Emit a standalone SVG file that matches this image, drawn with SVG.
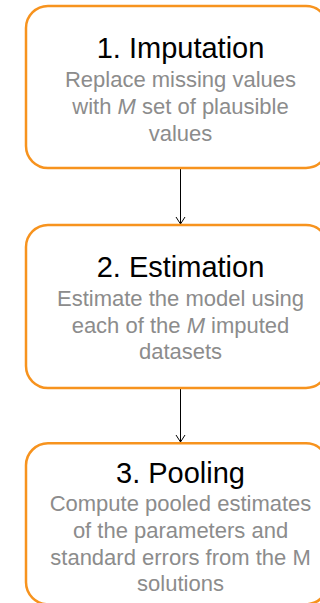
<svg xmlns="http://www.w3.org/2000/svg" width="320" height="603" viewBox="0 0 320 603">
<defs>
<style>
.box{fill:#fff;stroke:#F7931E;stroke-width:2.5}
.title{font-family:"Liberation Sans",Arial,Helvetica,sans-serif;font-size:29px;fill:#000;text-anchor:middle}
.sub{font-family:"Liberation Sans",Arial,Helvetica,sans-serif;font-size:22px;fill:#8c8c8c;text-anchor:middle}
.it{font-style:italic}
.conn{stroke:#000;stroke-width:1;fill:none}
</style>
<marker id="arr" markerWidth="12" markerHeight="12" refX="9" refY="5" orient="auto" markerUnits="userSpaceOnUse">
<path d="M2,0.5 L9,5 L2,9.5" fill="none" stroke="#000" stroke-width="1"/>
</marker>
</defs>
<rect width="320" height="603" fill="#fff"/>
<g id="connectors">
<line class="conn" x1="180.5" y1="168" x2="180.5" y2="224" marker-end="url(#arr)"/>
<line class="conn" x1="180.5" y1="388" x2="180.5" y2="442" marker-end="url(#arr)"/>
</g>
<g id="imputation">
<rect class="box" x="26" y="6" width="302" height="162" rx="22" ry="22"/>
<text class="title" x="180.5" y="58">1. Imputation</text>
<text class="sub" x="180.5" y="87.3">Replace missing values</text>
<text class="sub" x="180.5" y="114">with <tspan class="it">M</tspan> set of plausible</text>
<text class="sub" x="180.5" y="140.5">values</text>
</g>
<g id="estimation">
<rect class="box" x="26" y="225" width="302" height="163" rx="22" ry="22"/>
<text class="title" x="180.5" y="277.3">2. Estimation</text>
<text class="sub" x="180.5" y="306">Estimate the model using</text>
<text class="sub" x="180.5" y="332.7">each of the <tspan class="it">M</tspan> imputed</text>
<text class="sub" x="180.5" y="359.3">datasets</text>
</g>
<g id="pooling">
<rect class="box" x="26" y="443.3" width="302" height="161" rx="22" ry="22"/>
<text class="title" x="180.5" y="482.7">3. Pooling</text>
<text class="sub" x="180.5" y="511">Compute pooled estimates</text>
<text class="sub" x="180.5" y="537.7">of the parameters and</text>
<text class="sub" x="180.5" y="565">standard errors from the M</text>
<text class="sub" x="180.5" y="590.7">solutions</text>
</g>
</svg>
